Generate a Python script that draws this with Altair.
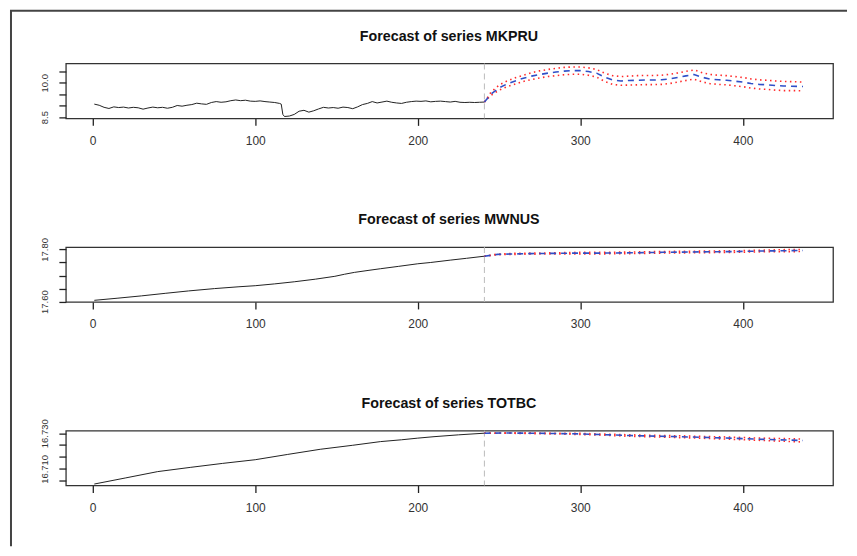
import altair as alt
import pandas as pd

# ---------------- data ----------------
# MKPRU
mk_hist_t = [1, 4, 7, 10, 13, 16, 19, 22, 25, 28, 31, 34, 37, 40, 43, 46, 49, 52, 55, 58,
             61, 64, 67, 70, 73, 76, 79, 82, 85, 88, 91, 94, 97, 100, 103, 106, 109, 112, 115, 116,
             117, 118, 121, 124, 127, 130, 133, 136, 139, 142, 145, 148, 151, 154, 157, 160, 163, 166,
             169, 172, 175, 178, 181, 184, 187, 190, 193, 196, 199, 202, 205, 208, 211, 214, 217, 220,
             223, 226, 229, 232, 235, 238, 241]
mk_hist_v = [9.07, 9.02, 8.93, 8.88, 8.95, 8.92, 8.94, 8.90, 8.93, 8.91, 8.85, 8.90, 8.94, 8.91, 8.93, 8.89,
             8.93, 9.01, 8.98, 9.02, 9.05, 9.11, 9.08, 9.06, 9.14, 9.18, 9.15, 9.17, 9.22, 9.25, 9.22, 9.24,
             9.20, 9.19, 9.21, 9.18, 9.16, 9.14, 9.10, 9.07,
             8.62, 8.53, 8.55, 8.62, 8.76, 8.80, 8.72, 8.78, 8.86, 8.93, 8.90, 8.92, 8.89, 8.94, 8.92, 8.87,
             8.95, 9.05, 9.10, 9.18, 9.12, 9.16, 9.20, 9.15, 9.12, 9.10, 9.15, 9.18, 9.20, 9.19, 9.21, 9.17,
             9.19, 9.20, 9.18, 9.16, 9.19, 9.15, 9.14, 9.15, 9.14, 9.15, 9.16]
mk_fc_t = [241, 245, 250, 255, 260, 265, 270, 275, 280, 285, 290, 295, 300, 305, 310, 315, 320, 325,
           330, 335, 340, 345, 350, 355, 360, 365, 370, 375, 380, 385, 390, 395, 400, 405, 410, 415,
           420, 425, 430, 437]
mk_fc_mid = [9.16, 9.50, 9.78, 9.95, 10.08, 10.20, 10.29, 10.36, 10.42, 10.47, 10.51, 10.53, 10.53, 10.49,
             10.42, 10.24, 10.12, 10.08, 10.10, 10.11, 10.12, 10.12, 10.13, 10.17, 10.23, 10.30, 10.36,
             10.24, 10.16, 10.13, 10.11, 10.07, 10.03, 9.97, 9.93, 9.91, 9.88, 9.86, 9.85, 9.84]
mk_fc_lo = [9.16, 9.45, 9.68, 9.83, 9.95, 10.06, 10.14, 10.21, 10.27, 10.31, 10.35, 10.37, 10.37, 10.33,
            10.25, 10.06, 9.93, 9.89, 9.90, 9.91, 9.92, 9.92, 9.93, 9.97, 10.03, 10.10, 10.16, 10.04,
            9.96, 9.93, 9.91, 9.87, 9.83, 9.77, 9.73, 9.71, 9.68, 9.66, 9.66, 9.65]
mk_fc_hi = [9.16, 9.58, 9.90, 10.08, 10.22, 10.33, 10.44, 10.52, 10.58, 10.63, 10.67, 10.69, 10.69, 10.65,
            10.58, 10.42, 10.31, 10.27, 10.29, 10.31, 10.32, 10.32, 10.33, 10.37, 10.43, 10.50, 10.56,
            10.44, 10.36, 10.33, 10.31, 10.27, 10.23, 10.17, 10.13, 10.11, 10.08, 10.06, 10.05, 10.03]

# MWNUS
mw_hist_t = [1, 15, 30, 45, 59, 75, 90, 100, 112, 124, 137, 149, 155, 161, 170, 177, 188, 200, 208,
             220, 230, 241]
mw_hist_v = [17.605, 17.613, 17.622, 17.632, 17.641, 17.650, 17.657, 17.661, 17.668, 17.676, 17.686,
             17.697, 17.705, 17.712, 17.720, 17.726, 17.735, 17.745, 17.750, 17.759, 17.766, 17.774]
mw_fc_t = [241, 249, 260, 270, 285, 300, 315, 331, 351, 366, 382, 397, 412, 425, 437]
mw_fc_mid = [17.774, 17.781, 17.783, 17.784, 17.785, 17.786, 17.786, 17.787, 17.789, 17.790, 17.791,
             17.792, 17.794, 17.795, 17.796]
mw_fc_lo = [17.774, 17.780, 17.781, 17.782, 17.783, 17.783, 17.783, 17.784, 17.786, 17.787, 17.788,
            17.789, 17.791, 17.791, 17.792]
mw_fc_hi = [17.774, 17.782, 17.785, 17.786, 17.787, 17.789, 17.789, 17.790, 17.792, 17.793, 17.794,
            17.795, 17.797, 17.799, 17.800]

# TOTBC
tb_hist_t = [1, 20, 40, 60, 80, 100, 120, 140, 160, 177, 190, 200, 210, 225, 241]
tb_hist_v = [16.7022, 16.7055, 16.7090, 16.7113, 16.7135, 16.7155, 16.7184, 16.7212, 16.7234, 16.7254,
             16.7264, 16.7273, 16.7281, 16.7291, 16.7300]
tb_fc_t = [241, 255, 270, 285, 300, 315, 331, 346, 361, 376, 392, 407, 422, 437]
tb_fc_mid = [16.7300, 16.7301, 16.7300, 16.7298, 16.7296, 16.7292, 16.7287, 16.7284, 16.7281, 16.7277,
             16.7273, 16.7268, 16.7264, 16.7260]
tb_fc_lo = [16.7300, 16.7300, 16.7298, 16.7296, 16.7293, 16.7289, 16.7283, 16.7280, 16.7276, 16.7272,
            16.7267, 16.7262, 16.7257, 16.7252]
tb_fc_hi = [16.7300, 16.7302, 16.7302, 16.7300, 16.7299, 16.7295, 16.7291, 16.7288, 16.7286, 16.7282,
            16.7279, 16.7274, 16.7271, 16.7268]

titles = ["Forecast of series MKPRU", "Forecast of series MWNUS", "Forecast of series TOTBC"]
x_ticks = [0, 100, 200, 300, 400]
sample_end = 241

FONT = "Liberation Sans"
x_scale = alt.Scale(domain=[-16.5, 455.5], nice=False, zero=False)
x_axis = alt.Axis(values=x_ticks, title=None, grid=False, domain=False, tickSize=7, tickColor="#222",
                  tickWidth=1.3, labelPadding=10, labelFontSize=12, labelColor="#333", labelFont=FONT,
                  labelFlush=False, labelOverlap=False)


def panel(title, ht, hv, ft, fmid, flo, fhi, ydom, yticks, lab_expr, frame=False):
    y_scale = alt.Scale(domain=ydom, nice=False, zero=False)
    y_axis = alt.Axis(values=yticks, labelExpr=lab_expr, title=None, grid=False, domain=False,
                      tickSize=7, tickColor="#222", tickWidth=1.3, labelAngle=270, labelPadding=9,
                      labelOverlap=False, labelFontSize=9.5, labelColor="#333", labelFont=FONT)
    hist = pd.DataFrame({"t": ht, "v": hv})
    fc = pd.DataFrame({"t": ft, "mid": fmid, "lo": flo, "hi": fhi})
    one = pd.DataFrame({"a": [0]})
    base_h = alt.Chart(hist).mark_line(color="#222", strokeWidth=1).encode(
        x=alt.X("t:Q", scale=x_scale, axis=x_axis),
        y=alt.Y("v:Q", scale=y_scale, axis=y_axis),
    )
    vline = alt.Chart(pd.DataFrame({"t": [sample_end]})).mark_rule(
        color="#bbbbbb", strokeDash=[6, 4], strokeWidth=1).encode(
        x=alt.X("t:Q", scale=x_scale, axis=x_axis))
    lo = alt.Chart(fc).mark_line(color="#ff2a2a", strokeDash=[1.5, 3.5], strokeWidth=1.6).encode(
        x=alt.X("t:Q", scale=x_scale, axis=x_axis), y=alt.Y("lo:Q", scale=y_scale, axis=y_axis))
    hi = alt.Chart(fc).mark_line(color="#ff2a2a", strokeDash=[1.5, 3.5], strokeWidth=1.6).encode(
        x=alt.X("t:Q", scale=x_scale, axis=x_axis), y=alt.Y("hi:Q", scale=y_scale, axis=y_axis))
    mid = alt.Chart(fc).mark_line(color="#2f4fc8", strokeDash=[6, 5], strokeWidth=1.6).encode(
        x=alt.X("t:Q", scale=x_scale, axis=x_axis), y=alt.Y("mid:Q", scale=y_scale, axis=y_axis))
    ttl = alt.Chart(one).mark_text(text=title, fontSize=14.3, fontWeight="bold", font=FONT,
                                   color="#111", align="center", baseline="middle").encode(
        x=alt.value(384), y=alt.value(-27))
    layers = [vline, base_h, lo, hi, mid, ttl]
    if frame:
        left = alt.Chart(one).mark_rule(color="#444", strokeWidth=2).encode(
            x=alt.value(-55), y=alt.value(-53), y2=alt.value(484))
        top = alt.Chart(one).mark_rule(color="#444", strokeWidth=2).encode(
            x=alt.value(-56), x2=alt.value(783), y=alt.value(-53))
        layers += [left, top]
    return alt.layer(*layers).properties(width=769, height=55)


p1 = panel(titles[0], mk_hist_t, mk_hist_v, mk_fc_t, mk_fc_mid, mk_fc_lo, mk_fc_hi,
           [8.448, 10.84], [8.5, 9.0, 9.5, 10.0, 10.5],
           "abs(datum.value - 8.5) < 0.01 || abs(datum.value - 10) < 0.01 ? format(datum.value, '.1f') : ''",
           frame=True)
p2 = panel(titles[1], mw_hist_t, mw_hist_v, mw_fc_t, mw_fc_mid, mw_fc_lo, mw_fc_hi,
           [17.5988, 17.809], [17.60, 17.65, 17.70, 17.75, 17.80],
           "abs(datum.value - 17.6) < 0.001 || abs(datum.value - 17.8) < 0.001 ? format(datum.value, '.2f') : ''")
p3 = panel(titles[2], tb_hist_t, tb_hist_v, tb_fc_t, tb_fc_mid, tb_fc_lo, tb_fc_hi,
           [16.7014, 16.7314], [16.704, 16.7105, 16.717, 16.7235, 16.730],
           "datum.value > 16.729 ? '16.730' : (abs(datum.value - 16.7105) < 0.0002 ? '16.710' : '')")

chart = alt.vconcat(p1, p2, p3, spacing=129, bounds="flush").properties(
    padding=0, background="white"
).configure_view(stroke="#333", strokeWidth=1.3).configure_axis(grid=False, labelOverlap=False)

chart.save("out.html", embed_options={"renderer": "svg", "actions": False})
